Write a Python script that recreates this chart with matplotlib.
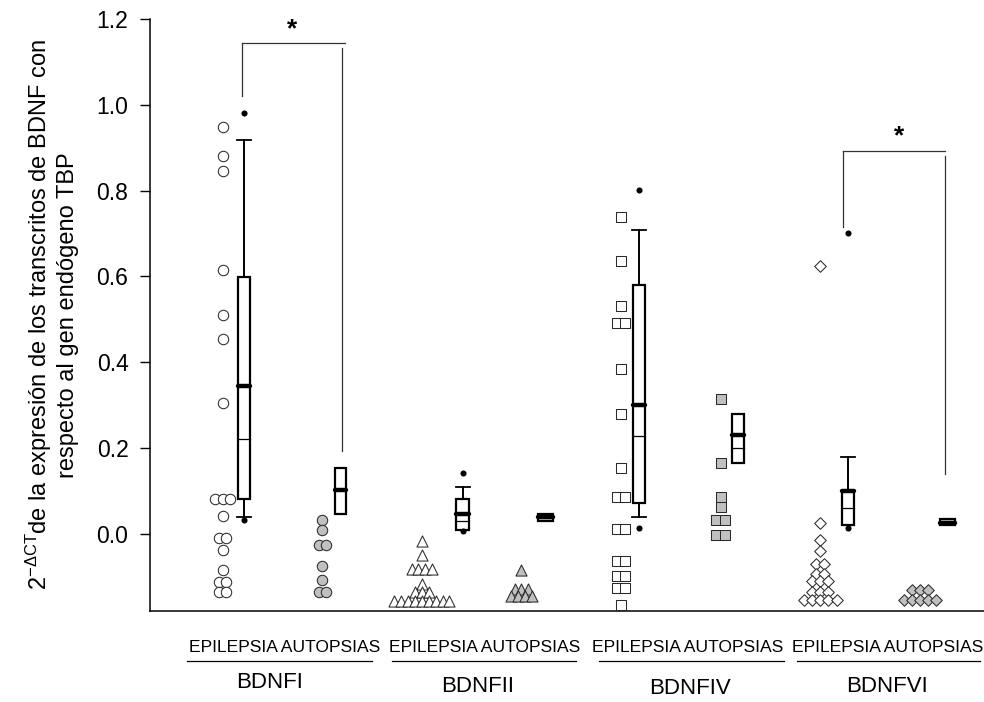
import matplotlib
matplotlib.use("Agg")
import matplotlib.pyplot as plt
import numpy as np
from matplotlib.patches import Rectangle
from matplotlib.lines import Line2D

plt.rcParams.update({
    "font.family": ["Liberation Sans", "DejaVu Sans"],
    "mathtext.fontset": "custom",
    "mathtext.rm": "Liberation Sans",
    "mathtext.it": "Liberation Sans:italic",
    "mathtext.bf": "Liberation Sans:bold",
})

# ---------------------------------------------------------------------------
# Data (2^-dCT values)
# ---------------------------------------------------------------------------
GROUPS = ["BDNFI", "BDNFII", "BDNFIV", "BDNFVI"]
CONDITIONS = ["EPILEPSIA", "AUTOPSIAS"]

bdnf1_epi = [0.948, 0.880, 0.845, 0.615, 0.511, 0.455, 0.305, 0.080, 0.080, 0.080,
             0.041, -0.010, -0.010, -0.037, -0.084, -0.113, -0.113, -0.136, -0.136]
bdnf1_aut = [0.031, 0.008, -0.027, -0.027, -0.074, -0.107, -0.136, -0.136]

bdnf2_epi = [-0.016, -0.049, -0.082, -0.082, -0.082, -0.082, -0.117, -0.136, -0.136,
             -0.136, -0.157, -0.157, -0.157, -0.157, -0.157, -0.157, -0.157, -0.157, -0.157]
bdnf2_aut = [-0.084, -0.128, -0.128, -0.128, -0.146, -0.146, -0.146, -0.146]

bdnf4_epi = [0.739, 0.635, 0.532, 0.492, 0.492, 0.383, 0.280, 0.154, 0.085, 0.085,
             0.012, 0.012, -0.064, -0.064, -0.099, -0.099, -0.127, -0.127, -0.167]
bdnf4_aut = [0.315, 0.165, 0.085, 0.062, 0.033, 0.033, -0.002, -0.002]

bdnf6_epi = [0.624, 0.025, -0.014, -0.039, -0.070, -0.070, -0.093, -0.093, -0.109,
             -0.109, -0.109, -0.136, -0.136, -0.136, -0.155, -0.155, -0.155, -0.155, -0.155]
bdnf6_aut = [-0.132, -0.132, -0.132, -0.154, -0.154, -0.154, -0.154, -0.154]

SAMPLES = [bdnf1_epi, bdnf1_aut, bdnf2_epi, bdnf2_aut,
           bdnf4_epi, bdnf4_aut, bdnf6_epi, bdnf6_aut]

# box summaries: I-epi, I-aut, II-epi, II-aut, IV-epi, IV-aut, VI-epi, VI-aut
box_q1 = [0.080, 0.046, 0.009, 0.029, 0.071, 0.165, 0.021, 0.020]
box_median = [0.220, 0.103, 0.029, 0.036, 0.229, 0.200, 0.060, 0.030]
box_q3 = [0.598, 0.153, 0.080, 0.047, 0.579, 0.280, 0.099, 0.035]
box_mean = [0.345, 0.103, 0.045, 0.040, 0.300, 0.231, 0.099, 0.026]
whisker_lo = [0.039, 0.046, 0.009, 0.029, 0.040, 0.165, 0.021, 0.020]
whisker_hi = [0.918, 0.153, 0.110, 0.047, 0.708, 0.280, 0.180, 0.035]
outliers = [[0.980, 0.033], [], [0.142, 0.007], [], [0.801, 0.013], [], [0.701, 0.014], []]

# ---------------------------------------------------------------------------
# Layout / style
# ---------------------------------------------------------------------------
W, H = 984, 702
MARKERS = ["o", "o", "^", "^", "s", "s", "D", "D"]
MSIZE = [7.5, 7.5, 8.0, 8.0, 6.9, 6.9, 5.9, 5.9]
STEP = [0.073, 0.073, 0.069, 0.069, 0.086, 0.086, 0.082, 0.082]
FILLS = ["white", "#c0c0c0"] * 4
BOX_OFFSET = [0.214, 0.183, 0.412, 0.238, 0.178, 0.174, 0.278, 0.282]
BOX_WIDTH = [0.12, 0.11, 0.13, 0.15, 0.12, 0.12, 0.12, 0.15]
CAP = 0.072

# significance brackets: (x_left, y_left_bottom, x_right, y_right_bottom, y_top, x_end, x_star, y_star)
BRACKETS = [
    (0.194, 1.020, 1.195, 0.194, 1.143, 1.228, 0.696, 1.160),
    (6.231, 0.716, 7.255, 0.140, 0.892, 7.255, 6.793, 0.910),
]


def swarm_x(values, center, step):
    vals = np.asarray(values)
    xs = np.empty(len(vals))
    for v in np.unique(vals):
        idx = np.where(vals == v)[0]
        xs[idx] = center + (np.arange(len(idx)) - (len(idx) - 1) / 2) * step
    return xs


fig = plt.figure(figsize=(W / 100, H / 100), dpi=100)
ax = fig.add_axes([150 / W, 1 - 611 / H, (W - 150) / W, (611 - 19) / H])

for k, vals in enumerate(SAMPLES):
    xs = swarm_x(vals, k, STEP[k])
    ax.scatter(xs, vals, marker=MARKERS[k], s=MSIZE[k] ** 2, facecolor=FILLS[k],
               edgecolor="#2a2a2a", linewidths=0.75, zorder=3, clip_on=False)

    xc = k + BOX_OFFSET[k]
    w = BOX_WIDTH[k]
    if whisker_hi[k] > box_q3[k]:
        ax.plot([xc, xc], [box_q3[k], whisker_hi[k]], color="black", lw=1.4, zorder=4)
        ax.plot([xc - CAP, xc + CAP], [whisker_hi[k]] * 2, color="black", lw=1.3, zorder=4)
    if whisker_lo[k] < box_q1[k]:
        ax.plot([xc, xc], [whisker_lo[k], box_q1[k]], color="black", lw=1.4, zorder=4)
        ax.plot([xc - CAP, xc + CAP], [whisker_lo[k]] * 2, color="black", lw=1.3, zorder=4)
    ax.add_patch(Rectangle((xc - w / 2, box_q1[k]), w, box_q3[k] - box_q1[k],
                           facecolor="white", edgecolor="black", lw=1.6, zorder=5))
    ax.plot([xc - w / 2, xc + w / 2], [box_median[k]] * 2, color="black", lw=0.9, zorder=6)
    ax.plot([xc - w / 2, xc + w / 2], [box_mean[k]] * 2, color="black", lw=3.2,
            solid_capstyle="round", zorder=7)
    if outliers[k]:
        ax.scatter([xc] * len(outliers[k]), outliers[k], s=4.4 ** 2, color="black",
                   zorder=8, linewidths=0)

for xl, yl, xr, yr, yt, xh, xs_, ys_ in BRACKETS:
    ax.plot([xl, xl], [yl, yt], color="#333333", lw=0.9)
    ax.plot([xl, xh], [yt, yt], color="#333333", lw=0.9)
    ax.plot([xr, xr], [yt - 0.011, yr], color="#333333", lw=0.9)
    ax.text(xs_, ys_, "*", ha="center", va="baseline", fontsize=19, fontweight="bold")

ax.set_xlim(-0.730, 7.644)
ax.set_ylim(-0.18, 1.2)
ax.set_yticks(np.arange(0, 1.21, 0.2))
ax.set_yticklabels([f"{t:.1f}" for t in np.arange(0, 1.21, 0.2)])
ax.set_xticks([])
ax.tick_params(axis="y", direction="out", length=7, width=1, pad=8.5, labelsize=16.5)
for side in ("top", "right"):
    ax.spines[side].set_visible(False)
for side in ("left", "bottom"):
    ax.spines[side].set_linewidth(1.1)

ax.set_ylabel("2$^{\\mathregular{-ΔCT}}$de la expresión de los transcritos de BDNF con\n"
              "respecto al gen endógeno TBP", fontsize=17)
ax.yaxis.set_label_coords((79 - 150) / (W - 150), 0.5)

# group labels below the axis
cond_x = [285, 485, 688, 888]
line_span = [(187, 372), (392, 576), (599, 784), (797, 980)]
group_x = [270, 478, 690, 887]
group_y = [682, 687, 688, 687]
for i, g in enumerate(GROUPS):
    fig.text(cond_x[i] / W, 1 - 647 / H, " ".join(CONDITIONS), ha="center", va="center",
             fontsize=12.6)
    x0, x1 = line_span[i]
    fig.add_artist(Line2D([x0 / W, x1 / W], [1 - 660.5 / H] * 2, color="black", lw=0.9,
                          transform=fig.transFigure))
    fig.text(group_x[i] / W, 1 - group_y[i] / H, g, ha="center", va="center", fontsize=16)

fig.savefig("out.png", dpi=100)
